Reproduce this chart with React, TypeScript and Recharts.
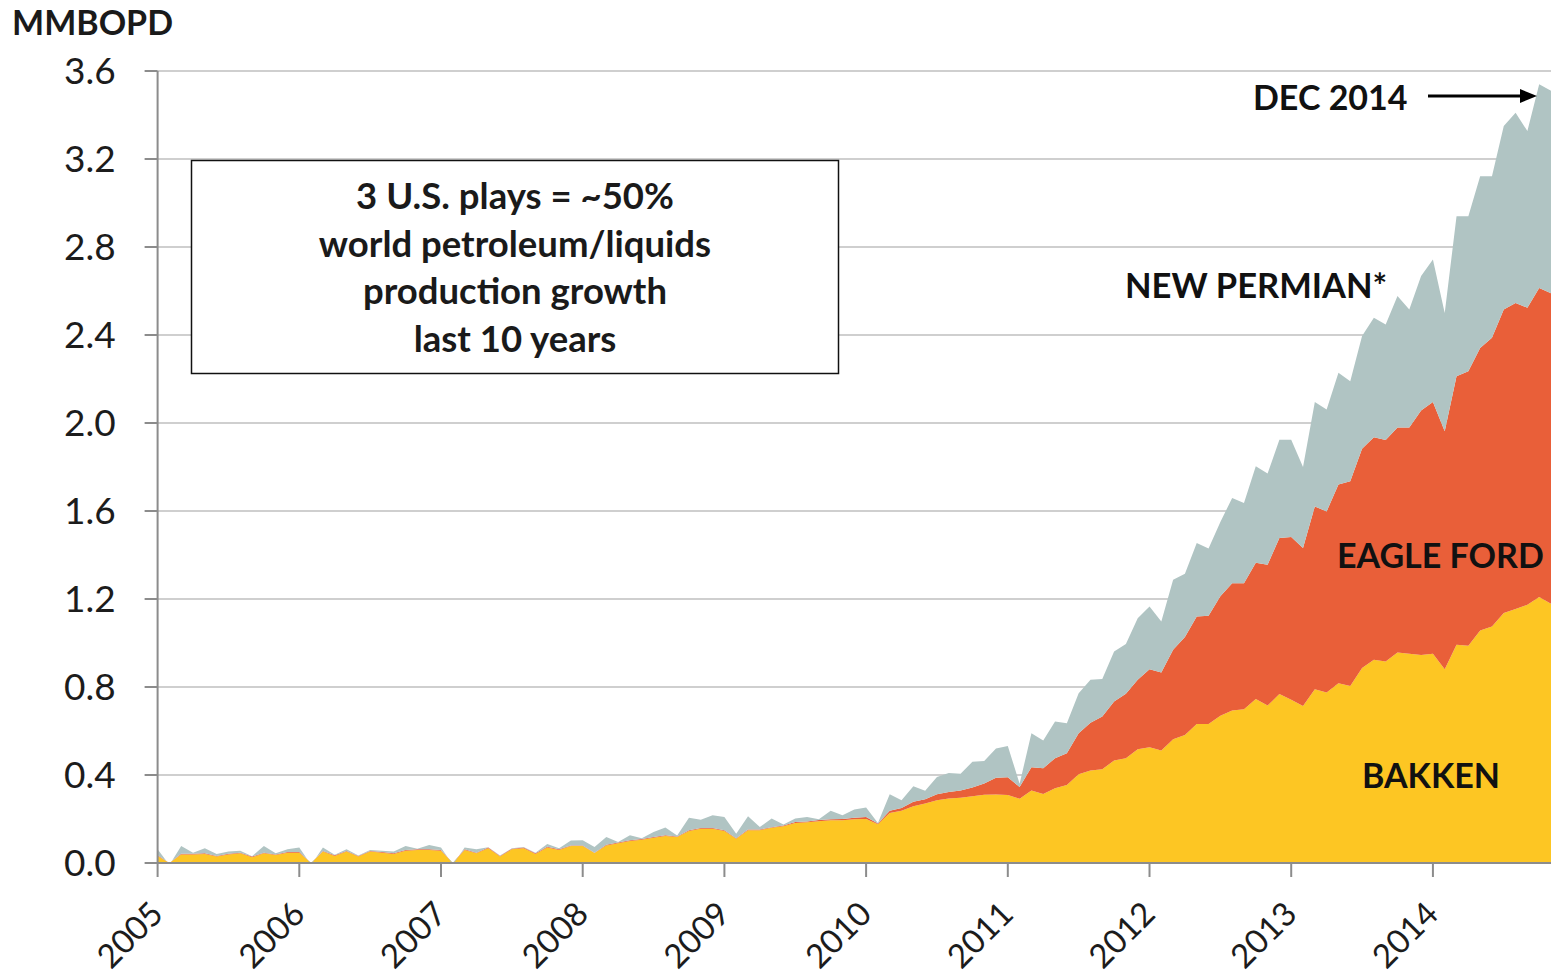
import React from 'react';
import { AreaChart, Area, XAxis, YAxis, CartesianGrid } from 'recharts';

// Monthly data, Jan 2005 onward (index 0 = Jan 2005), MMBOPD
const years = [2005, 2006, 2007, 2008, 2009, 2010, 2011, 2012, 2013, 2014];
const monthNames = ['Jan', 'Feb', 'Mar', 'Apr', 'May', 'Jun', 'Jul', 'Aug', 'Sep', 'Oct', 'Nov', 'Dec'];

const bakken = [
  0.032, 0, 0.039, 0.039, 0.041, 0.029, 0.039, 0.044, 0.026, 0.044,
  0.036, 0.047, 0.047, 0, 0.052, 0.032, 0.052, 0.029, 0.052, 0.047,
  0.041, 0.056, 0.059, 0.059, 0.056, 0, 0.059, 0.044, 0.067, 0.029,
  0.062, 0.067, 0.041, 0.071, 0.059, 0.077, 0.077, 0.045, 0.080, 0.090,
  0.100, 0.106, 0.115, 0.123, 0.118, 0.146, 0.156, 0.156, 0.146, 0.110,
  0.149, 0.149, 0.160, 0.167, 0.182, 0.185, 0.190, 0.194, 0.194, 0.199,
  0.200, 0.176, 0.227, 0.237, 0.258, 0.270, 0.285, 0.293, 0.297, 0.303,
  0.310, 0.311, 0.309, 0.292, 0.330, 0.314, 0.340, 0.355, 0.403, 0.420,
  0.426, 0.466, 0.476, 0.517, 0.526, 0.511, 0.563, 0.582, 0.632, 0.632,
  0.669, 0.693, 0.699, 0.745, 0.716, 0.768, 0.742, 0.714, 0.790, 0.775,
  0.817, 0.805, 0.886, 0.924, 0.916, 0.957, 0.951, 0.946, 0.951, 0.881,
  0.992, 0.987, 1.057, 1.075, 1.136, 1.154, 1.174, 1.209, 1.178,
];

const eagleFord = [
  0.003, 0, 0.003, 0.003, 0.003, 0.003, 0.003, 0.003, 0.003, 0.003,
  0.003, 0.003, 0.003, 0, 0.003, 0.003, 0.003, 0.003, 0.003, 0.003,
  0.003, 0.003, 0.003, 0.003, 0.003, 0, 0.003, 0.003, 0.003, 0.003,
  0.003, 0.003, 0.003, 0.003, 0.003, 0.003, 0.002, 0.002, 0.003, 0.003,
  0.003, 0.003, 0.003, 0.003, 0.003, 0.003, 0.003, 0.003, 0.003, 0.003,
  0.003, 0.003, 0.003, 0.003, 0.004, 0.004, 0.005, 0.005, 0.006, 0.007,
  0.009, 0.004, 0.010, 0.013, 0.020, 0.020, 0.028, 0.030, 0.033, 0.040,
  0.051, 0.077, 0.081, 0.053, 0.105, 0.117, 0.136, 0.144, 0.187, 0.218,
  0.240, 0.268, 0.293, 0.316, 0.355, 0.355, 0.406, 0.445, 0.489, 0.492,
  0.543, 0.579, 0.573, 0.620, 0.640, 0.709, 0.740, 0.718, 0.831, 0.823,
  0.903, 0.930, 0.997, 1.011, 1.007, 1.023, 1.029, 1.111, 1.144, 1.081,
  1.221, 1.248, 1.284, 1.312, 1.380, 1.392, 1.350, 1.405, 1.412,
];

const newPermian = [
  0.027, -0.009, 0.035, 0.005, 0.023, 0.009, 0.010, 0.009, 0.002, 0.030,
  0.005, 0.012, 0.021, -0.009, 0.016, 0.003, 0.007, 0.002, 0.004, 0.006,
  0.008, 0.018, 0.003, 0.020, 0.012, -0.009, 0.009, 0.015, 0.002, 0.002,
  0.002, 0.003, 0.003, 0.012, 0.005, 0.022, 0.024, 0.026, 0.035, 0.003,
  0.023, 0.003, 0.023, 0.035, 0.004, 0.057, 0.038, 0.058, 0.060, 0.020,
  0.060, 0.012, 0.039, 0.005, 0.016, 0.020, 0.004, 0.038, 0.017, 0.037,
  0.043, 0.002, 0.075, 0.035, 0.071, 0.038, 0.078, 0.086, 0.076, 0.117,
  0.103, 0.132, 0.142, 0.015, 0.155, 0.126, 0.167, 0.136, 0.182, 0.195,
  0.170, 0.227, 0.227, 0.280, 0.285, 0.232, 0.319, 0.288, 0.333, 0.306,
  0.338, 0.387, 0.364, 0.438, 0.414, 0.447, 0.442, 0.368, 0.474, 0.463,
  0.508, 0.455, 0.512, 0.543, 0.525, 0.597, 0.536, 0.611, 0.648, 0.538,
  0.727, 0.705, 0.781, 0.735, 0.834, 0.864, 0.803, 0.926, 0.920,
];

const yTicks = [0, 0.4, 0.8, 1.2, 1.6, 2.0, 2.4, 2.8, 3.2, 3.6];
const xTicks = [0, 12, 24, 36, 48, 60, 72, 84, 96, 108];
const xTickLabels = ['2005', '2006', '2007', '2008', '2009', '2010', '2011', '2012', '2013', '2014'];

const boxLines = ['3 U.S. plays = ~50%', 'world petroleum/liquids', 'production growth', 'last 10 years'];

const categories = years.flatMap((yr) => monthNames.map((m) => `${m} ${yr}`));

const data = bakken.map((b, i) => ({
  idx: i,
  month: categories[i],
  bakken: b,
  eagleFord: eagleFord[i],
  newPermian: newPermian[i],
}));

const FONT = 'Lato, "Open Sans", "DejaVu Sans", sans-serif';

const YTick = (props: any) => {
  const { x, y, payload } = props;
  return (
    <text x={x} y={y} dy={13} textAnchor="end" fontFamily={FONT} fontSize={37} fill="#1c1c1c">
      {Number(payload.value).toFixed(1)}
    </text>
  );
};

const XTick = (props: any) => {
  const { x, y, payload } = props;
  const idx = xTicks.indexOf(payload.value);
  const ax = x + 7.5;
  const ay = y + 39;
  return (
    <text
      x={ax}
      y={ay}
      textAnchor="end"
      fontFamily={FONT}
      fontSize={33}
      fill="#1c1c1c"
      transform={`rotate(-45, ${ax}, ${ay})`}
    >
      {xTickLabels[idx]}
    </text>
  );
};

export default function App() {
  return (
    <div style={{ position: 'absolute', left: 0, top: 0, width: 1551, height: 974, background: '#fff' }}>
      <AreaChart
        width={1551}
        height={974}
        data={data}
        margin={{ top: 71, right: 0, bottom: 0, left: 0 }}
      >
        <CartesianGrid horizontal vertical={false} stroke="#cfcfcf" strokeWidth={2} />
        <XAxis
          dataKey="idx"
          type="number"
          domain={[0, 118]}
          ticks={xTicks}
          interval={0}
          height={111}
          tickSize={14}
          tickMargin={0}
          stroke="#8c8c8c"
          strokeWidth={2}
          tick={<XTick />}
          allowDataOverflow
        />
        <YAxis
          type="number"
          domain={[0, 3.6]}
          ticks={yTicks}
          interval={0}
          width={157.6}
          tickSize={13}
          tickMargin={29}
          stroke="#8c8c8c"
          strokeWidth={2}
          tick={<YTick />}
          allowDataOverflow
        />
        <Area
          type="linear"
          dataKey="bakken"
          stackId="1"
          stroke="none"
          fill="#FDC623"
          fillOpacity={1}
          isAnimationActive={false}
          dot={false}
          activeDot={false}
        />
        <Area
          type="linear"
          dataKey="eagleFord"
          stackId="1"
          stroke="none"
          fill="#E95F39"
          fillOpacity={1}
          isAnimationActive={false}
          dot={false}
          activeDot={false}
        />
        <Area
          type="linear"
          dataKey="newPermian"
          stackId="1"
          stroke="none"
          fill="#B0C4C3"
          fillOpacity={1}
          isAnimationActive={false}
          dot={false}
          activeDot={false}
        />
      </AreaChart>
      <svg
        width={1551}
        height={974}
        style={{ position: 'absolute', left: 0, top: 0, pointerEvents: 'none' }}
      >
        <text x={12} y={35} fontFamily={FONT} fontWeight={700} fontSize={34} fill="#1a1a1a">MMBOPD</text>
        <rect x={191.5} y={160.5} width={647} height={213} fill="#ffffff" stroke="#111" strokeWidth={1.5} />
        {boxLines.map((t, i) => (
          <text
            key={t}
            x={515}
            y={209 + i * 47.5}
            textAnchor="middle"
            fontFamily={FONT}
            fontWeight={700}
            fontSize={36.5}
            fill="#1a1a1a"
          >
            {t}
          </text>
        ))}
        <text x={1253} y={110} fontFamily={FONT} fontWeight={700} fontSize={34} fill="#111">DEC 2014</text>
        <line x1={1428} y1={96} x2={1524} y2={96} stroke="#000" strokeWidth={3} />
        <polygon points="1520,89 1537,96 1520,103" fill="#000" />
        <text x={1125} y={298} fontFamily={FONT} fontWeight={700} fontSize={34.5} fill="#111">NEW PERMIAN*</text>
        <text x={1337} y={568} fontFamily={FONT} fontWeight={700} fontSize={34} fill="#111">EAGLE FORD</text>
        <text x={1362} y={788} fontFamily={FONT} fontWeight={700} fontSize={34} fill="#111">BAKKEN</text>
      </svg>
    </div>
  );
}
